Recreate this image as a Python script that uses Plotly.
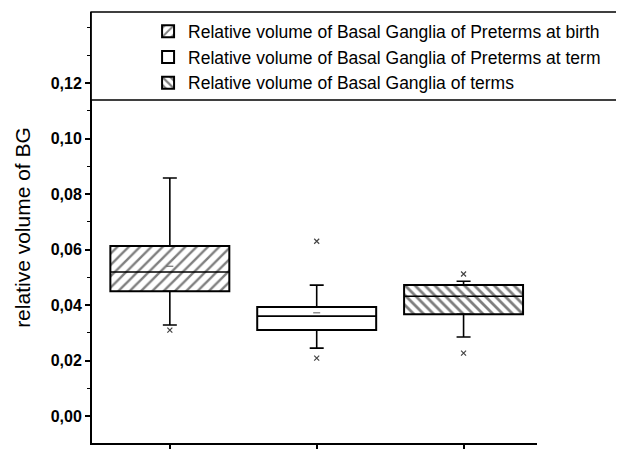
import plotly.graph_objects as go

# ---- data ----
groups = ["Relative volume of Basal Ganglia of Preterms at birth",
          "Relative volume of Basal Ganglia of Preterms at term",
          "Relative volume of Basal Ganglia of terms"]
positions = [1, 2, 3]
q1 = [0.0450, 0.0310, 0.0367]
median = [0.0519, 0.0360, 0.0432]
q3 = [0.0613, 0.0393, 0.0472]
lower_whisker = [0.0328, 0.0245, 0.0285]
upper_whisker = [0.0858, 0.0472, 0.0486]
means = [0.0540, 0.0372, 0.0430]
outlier_x = [1, 2, 2, 3, 3]
outlier_y = [0.0310, 0.0630, 0.0209, 0.0512, 0.0227]
patterns = ["/", "", "\\"]
pattern_sizes = [8, 8, 7]
pattern_solidity = [0.3, 0.3, 0.4]

y_ticks = [0.00, 0.02, 0.04, 0.06, 0.08, 0.10, 0.12]

BOX_W = 0.81
fig = go.Figure()

# boxes (interquartile range) as floating bars
for i in range(3):
    fig.add_trace(go.Bar(
        x=[positions[i]], y=[q3[i] - q1[i]], base=[q1[i]], width=BOX_W,
        name=groups[i],
        marker=dict(color="white",
                    line=dict(color="black", width=2),
                    pattern=dict(shape=patterns[i], fgcolor="black", bgcolor="white",
                                 size=pattern_sizes[i], solidity=pattern_solidity[i])),
        hoverinfo="skip",
    ))

# medians
for i in range(3):
    fig.add_trace(go.Scatter(
        x=[positions[i] - BOX_W / 2, positions[i] + BOX_W / 2], y=[median[i], median[i]],
        mode="lines", line=dict(color="black", width=1.6), showlegend=False, hoverinfo="skip"))

# whiskers (error bars with caps)
fig.add_trace(go.Scatter(
    x=positions, y=q3, mode="markers", marker=dict(opacity=0),
    error_y=dict(type="data", symmetric=False,
                 array=[u - a for u, a in zip(upper_whisker, q3)],
                 arrayminus=[0, 0, 0], width=7, thickness=1.6, color="black"),
    showlegend=False, hoverinfo="skip"))
fig.add_trace(go.Scatter(
    x=positions, y=q1, mode="markers", marker=dict(opacity=0),
    error_y=dict(type="data", symmetric=False,
                 array=[0, 0, 0],
                 arrayminus=[a - l for a, l in zip(q1, lower_whisker)],
                 width=7, thickness=1.6, color="black"),
    showlegend=False, hoverinfo="skip"))

# means and outliers
fig.add_trace(go.Scatter(
    x=positions, y=means, mode="markers",
    marker=dict(symbol="line-ew", size=5, line=dict(color="#555", width=1)),
    showlegend=False, hoverinfo="skip"))
fig.add_trace(go.Scatter(
    x=outlier_x, y=outlier_y, mode="markers",
    marker=dict(symbol="x-thin", size=5, line=dict(color="#444", width=1.2)),
    showlegend=False, hoverinfo="skip"))

# legend frame
fig.add_shape(type="rect", xref="paper", yref="paper",
              x0=-0.002, x1=1.25, y0=0.796, y1=1.0,
              line=dict(color="black", width=1.5), fillcolor="white", layer="above")

# the page body has an 8px margin, so the figure is 8px smaller and offset
fig.update_layout(
    width=616, height=441,
    margin=dict(l=84, r=87, t=4, b=6, autoexpand=False),
    paper_bgcolor="white", plot_bgcolor="white",
    separators=",.",
    barmode="overlay",
    font=dict(family="Liberation Sans, Arial, sans-serif", color="black"),
    showlegend=True,
    legend=dict(x=0.126, y=0.997, xanchor="left", yanchor="top",
                bgcolor="rgba(0,0,0,0)", borderwidth=0,
                font=dict(size=17.5, color="black"), tracegroupgap=0),
    xaxis=dict(range=[0.47, 3.5], tickvals=positions, ticktext=["", "", ""],
               ticks="outside", ticklen=6, tickwidth=1.5, tickcolor="black",
               showline=True, linecolor="black", linewidth=2,
               showgrid=False, zeroline=False, automargin=False),
    yaxis=dict(range=[-0.0097, 0.1456], tickvals=y_ticks, tickformat=".2f",
               ticks="outside", ticklen=5, tickwidth=1.5, tickcolor="black",
               minor=dict(dtick=0.01, ticks="outside", ticklen=3, tickwidth=1.2, tickcolor="black"),
               showline=True, linecolor="black", linewidth=2,
               showgrid=False, zeroline=False, automargin=False,
               tickfont=dict(size=16, color="black", weight="bold"),
               title=dict(text="relative volume of BG", font=dict(size=21, color="black"), standoff=14)),
)

fig.write_html("out.html")
